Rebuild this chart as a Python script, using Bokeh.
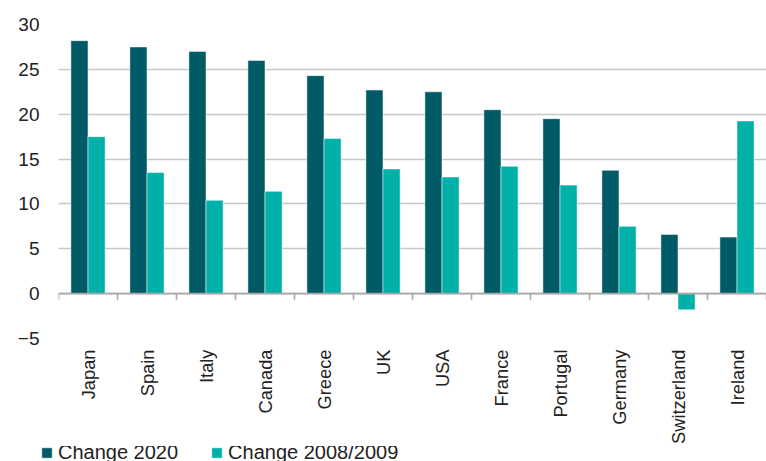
import math
from bokeh.plotting import figure
from bokeh.layouts import column
from bokeh.models import (Range1d, FixedTicker, Span, Legend, LegendItem,
                          ColumnDataSource)
from bokeh.embed import file_html
from bokeh.resources import INLINE

countries = ["Japan", "Spain", "Italy", "Canada", "Greece", "UK", "USA",
             "France", "Portugal", "Germany", "Switzerland", "Ireland"]
change_2020 = [28.2, 27.5, 27.0, 26.0, 24.3, 22.7, 22.5, 20.5, 19.5, 13.75, 6.6, 6.3]
change_2008 = [17.5, 13.5, 10.4, 11.4, 17.3, 13.9, 13.0, 14.2, 12.1, 7.5, -1.8, 19.25]
series_names = ["Change 2020", "Change 2008/2009"]
y_ticks = [-5, 0, 5, 10, 15, 20, 25, 30]

DARK = "#005b66"
LIGHT = "#00b1a9"
AXIS_GREY = "#a8a8a8"
FONT = "Liberation Sans"
TXT = "#222222"

n = len(countries)
centers = [i + 0.5 for i in range(n)]
bw = 0.29
src = ColumnDataSource(dict(
    x1=[c - bw / 2 for c in centers],
    x2=[c + bw / 2 for c in centers],
    v1=change_2020,
    v2=change_2008,
))
bounds = list(range(n + 1))
tick_src = ColumnDataSource(dict(x=bounds, y0=[0] * len(bounds), y1=[-0.67] * len(bounds)))

p = figure(width=766, height=446, output_backend="svg", toolbar_location=None,
           x_range=Range1d(0, n), y_range=Range1d(-5, 30),
           min_border_left=58, min_border_right=0, min_border_top=24,
           min_border_bottom=108)
p.outline_line_color = None
p.xgrid.visible = False
p.ygrid.grid_line_color = "#c8c8c8"
p.ygrid.grid_line_width = 1.4
p.ygrid.ticker = FixedTicker(ticks=y_ticks)

bar_style = dict(line_color="white", line_alpha=0.5, line_width=1)
p.vbar(x="x1", top="v1", width=bw, bottom=0, source=src, fill_color=DARK, **bar_style)
p.vbar(x="x2", top="v2", width=bw, bottom=0, source=src, fill_color=LIGHT, **bar_style)

# zero line with boundary ticks
p.add_layout(Span(location=0, dimension="width", line_color=AXIS_GREY, line_width=1.6))
p.segment(x0="x", y0="y0", x1="x", y1="y1", source=tick_src,
          line_color=AXIS_GREY, line_width=1.6)

# y axis
ya = p.yaxis[0]
ya.ticker = FixedTicker(ticks=y_ticks)
ya.axis_line_color = None
ya.major_tick_line_color = None
ya.minor_tick_line_color = None
ya.major_tick_out = 0
ya.major_tick_in = 0
ya.major_label_standoff = 19
ya.major_label_text_font = FONT
ya.major_label_text_font_size = "19px"
ya.major_label_text_color = TXT

# category label axis (below)
xa = p.xaxis[0]
xa.ticker = FixedTicker(ticks=centers)
xa.major_label_overrides = {c: name for c, name in zip(centers, countries)}
xa.major_label_orientation = math.pi / 2
xa.axis_line_color = None
xa.major_tick_line_color = None
xa.minor_tick_line_color = None
xa.major_tick_out = 0
xa.major_tick_in = 0
xa.major_label_standoff = 11
xa.major_label_text_font = FONT
xa.major_label_text_font_size = "18.3px"
xa.major_label_text_color = TXT

# legend strip (its bars lie outside its own visible range; only the legend shows)
lf = figure(width=766, height=15, output_backend="svg", toolbar_location=None,
            x_range=Range1d(-20, -19), y_range=Range1d(0, 1),
            x_axis_type=None, y_axis_type=None,
            min_border_left=0, min_border_right=0, min_border_top=0, min_border_bottom=0)
lf.outline_line_color = None
lf.xgrid.visible = False
lf.ygrid.visible = False
g1 = lf.vbar(x="x1", top="v1", width=bw, bottom=0, source=src, fill_color=DARK, **bar_style)
g2 = lf.vbar(x="x2", top="v2", width=bw, bottom=0, source=src, fill_color=LIGHT, **bar_style)

for fig in (p, lf):
    if "frame_align" in fig.properties():
        fig.frame_align = False

legend = Legend(items=[LegendItem(label=series_names[0], renderers=[g1]),
                       LegendItem(label=series_names[1], renderers=[g2])],
                location=(40, -3), orientation="horizontal")
legend.background_fill_alpha = 0
legend.border_line_alpha = 0
legend.padding = 0
legend.margin = 0
legend.spacing = 32
legend.label_standoff = 5
legend.glyph_width = 13
legend.glyph_height = 13
legend.label_text_font = FONT
legend.label_text_font_size = "20px"
legend.label_text_color = TXT
lf.add_layout(legend)

layout = column(p, lf, spacing=0)
open("out.html", "w").write(file_html(layout, INLINE))
